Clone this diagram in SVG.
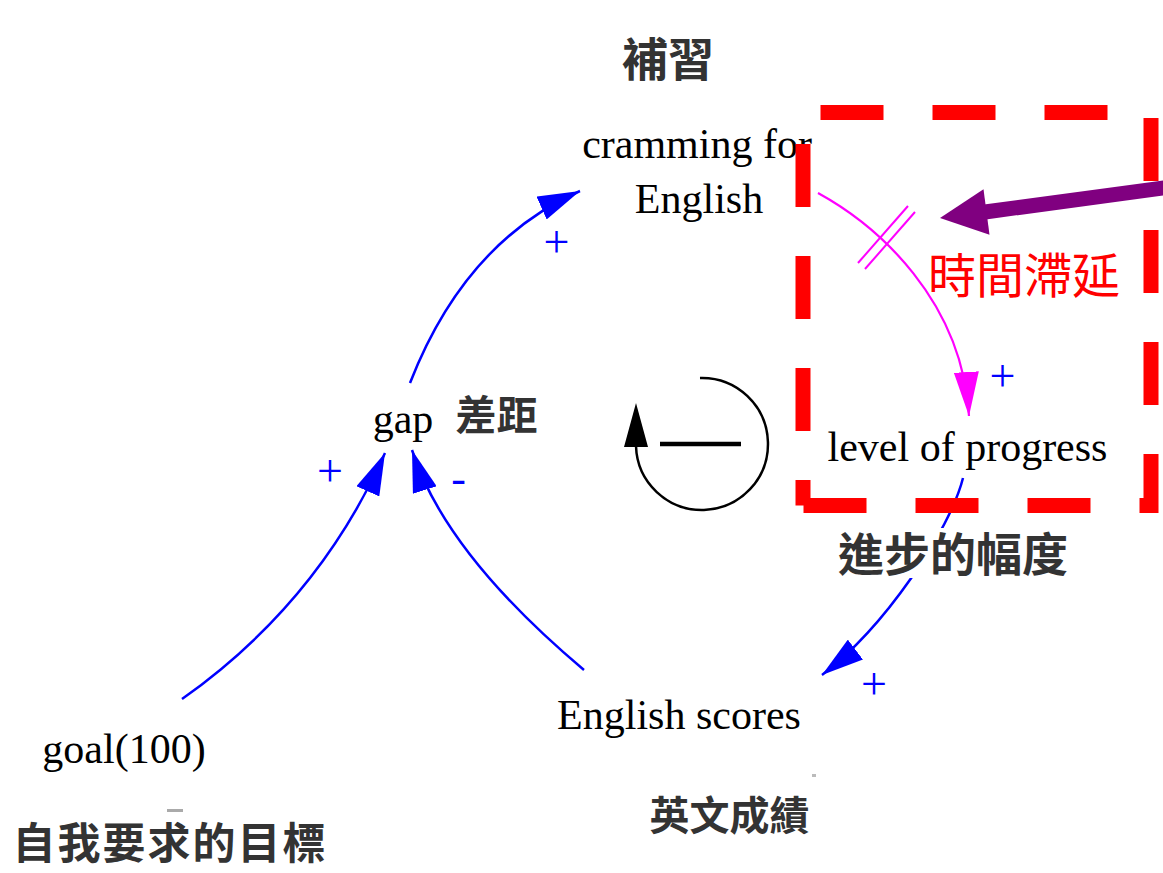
<svg xmlns="http://www.w3.org/2000/svg" width="1163" height="873" viewBox="0 0 1163 873">
  <style>
    .node { font-family: "Liberation Serif", "Times New Roman", serif; font-size: 42px; fill: #000; text-anchor: middle; }
    .zh { font-family: "Noto Sans CJK TC", "Noto Sans CJK SC", sans-serif; font-weight: 700; fill: #333; text-anchor: middle; }
    .pol { font-family: "Liberation Serif", "Times New Roman", serif; font-size: 46px; fill: #0000FF; text-anchor: middle; }
    .blue { fill: none; stroke: #0000FF; stroke-width: 2.5; }
    .mag { fill: none; stroke: #FF00FF; stroke-width: 2.2; }
  </style>
  <defs>
    <marker id="ab" viewBox="0 0 42 25" refX="42" refY="12.5" markerWidth="42" markerHeight="25" markerUnits="userSpaceOnUse" orient="auto">
      <path d="M0,0 L42,12.5 L0,25 Z" fill="#0000FF"/>
    </marker>
    <marker id="am" viewBox="0 0 44 25" refX="44" refY="12.5" markerWidth="44" markerHeight="25" markerUnits="userSpaceOnUse" orient="auto">
      <path d="M0,0 L44,12.5 L0,25 Z" fill="#FF00FF"/>
    </marker>
  </defs>
  <rect width="1163" height="873" fill="#FFFFFF"/>

  <g id="connectors">
    <path class="blue" d="M182,699 Q318,603 385,453" marker-end="url(#ab)"/>
    <path class="blue" d="M584,670 Q445,553 412,450" marker-end="url(#ab)"/>
    <path class="blue" d="M410,383 Q465,242 580,191" marker-end="url(#ab)"/>
    <path class="blue" d="M963,478 C950,530 885,627 822,675" marker-end="url(#ab)"/>
    <path class="mag" d="M818,193 C878,226 962,300 969,416" marker-end="url(#am)"/>
    <g id="delay-mark" stroke="#FF00FF" stroke-width="2">
      <line x1="858" y1="263" x2="908" y2="206"/>
      <line x1="865" y1="269" x2="915" y2="212"/>
    </g>
    <text class="pol" x="330" y="486">+</text>
    <text class="pol" x="458.5" y="493" style="font-size:44px">-</text>
    <text class="pol" x="556.5" y="257">+</text>
    <text class="pol" x="1002.5" y="390.5">+</text>
    <text class="pol" x="874" y="698.5">+</text>
  </g>

  <g id="node-cramming">
    <text class="node" x="697" y="158">cramming for</text>
    <text class="node" x="699" y="213">English</text>
    <text class="zh" x="668" y="76" style="font-size:46px">補習</text>
  </g>

  <g id="node-gap">
    <text class="node" x="403" y="433">gap</text>
    <text class="zh" x="496.5" y="430" style="font-size:41px">差距</text>
  </g>

  <g id="node-level">
    <text class="node" x="967.5" y="461">level of progress</text>
    <rect x="836" y="528" width="234" height="50" fill="#FFFFFF"/>
    <text class="zh" x="953" y="571" style="font-size:46px">進步的幅度</text>
  </g>

  <g id="node-scores">
    <text class="node" x="679" y="729">English scores</text>
    <text class="zh" x="729.5" y="830" style="font-size:40px">英文成績</text>
    <rect x="812" y="774" width="4" height="3" fill="#BBBBBB"/>
  </g>

  <g id="node-goal">
    <text class="node" x="124" y="763">goal(100)</text>
    <rect x="167" y="809" width="16" height="3" fill="#AAAAAA"/>
    <text class="zh" x="170" y="859" style="font-size:43px;letter-spacing:2px">自我要求的目標</text>
  </g>

  <g id="loop-symbol">
    <path d="M700,378 A66,66 0 1 1 636,446" fill="none" stroke="#000" stroke-width="2.5"/>
    <polygon points="636,403 624,447 648,447" fill="#000"/>
    <line x1="660" y1="444" x2="741" y2="444" stroke="#000" stroke-width="4.5"/>
  </g>

  <g id="delay-highlight">
    <path d="M803,505.5 V112.5 H1151 V505.5 H803" fill="none" stroke="#FF0000" stroke-width="15" stroke-dasharray="63 49" stroke-dashoffset="37.5"/>
    <text x="1024" y="293" style="font-family:'Noto Sans CJK TC','Noto Sans CJK SC',sans-serif;font-size:48px;fill:#FF0000;text-anchor:middle">時間滯延</text>
    <line x1="1200" y1="183" x2="985" y2="212" stroke="#800080" stroke-width="15"/>
    <polygon points="940,218 983.5,189.2 989.5,234.8" fill="#800080"/>
  </g>
</svg>
